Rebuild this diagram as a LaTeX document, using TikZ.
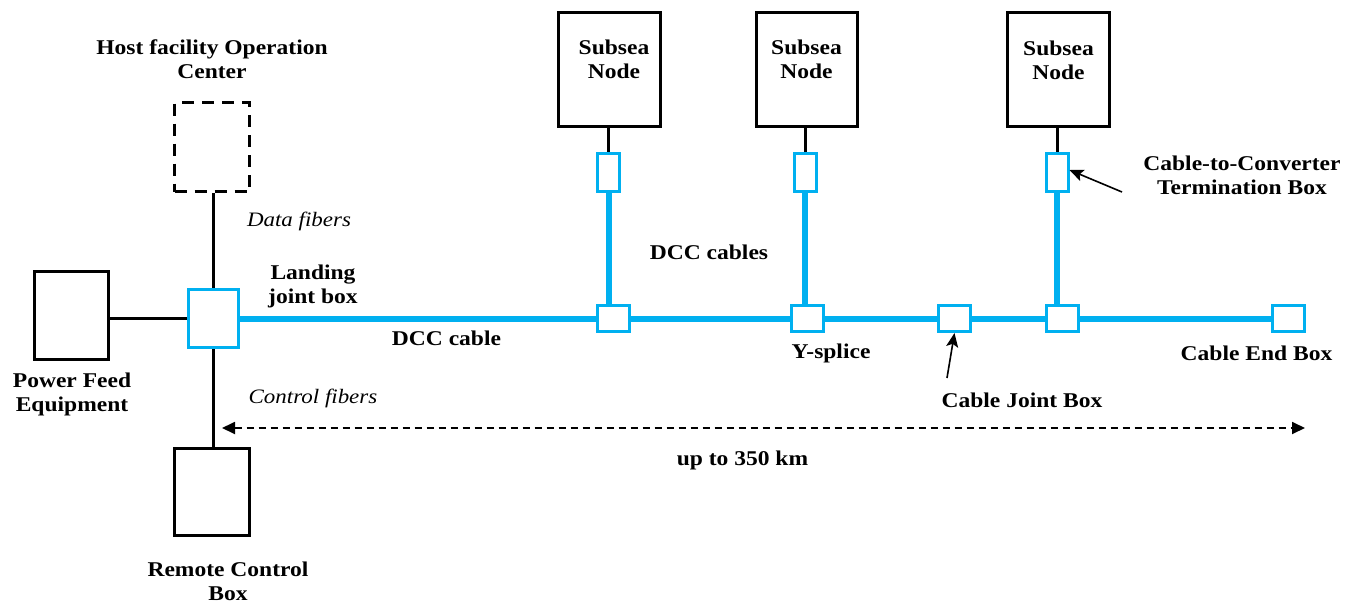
\documentclass[tikz,border=0pt]{standalone}
\usepackage{fontspec}
\setmainfont{Liberation Serif}[FakeStretch=1.12]
\usetikzlibrary{arrows.meta}
\definecolor{cableblue}{HTML}{00B0F0}
\begin{document}
\begin{tikzpicture}[x=1pt,y=-1pt,
  every node/.style={font=\fontsize{21}{24}\selectfont\bfseries, align=center, inner sep=0pt},
  blackbox/.style={draw=black, line width=3pt, rectangle, inner sep=0pt},
  dashbox/.style={blackbox, dash pattern=on 12pt off 8pt},
  bluebox/.style={draw=cableblue, line width=3pt, rectangle, fill=white, inner sep=0pt},
  wire/.style={draw=black, line width=3pt},
  cable/.style={draw=cableblue, line width=6pt},
  ptr/.style={draw=black, line width=1.6pt, -{Stealth[length=14pt,width=12pt,inset=3pt]}},
  dim/.style={draw=black, line width=1.8pt, dash pattern=on 7pt off 5pt,
     {Triangle[length=13pt,width=12pt]}-{Triangle[length=13pt,width=12pt]}},
  lbl/.style={},
  ital/.style={font=\fontsize{20.5}{24}\selectfont\itshape}
]
\useasboundingbox (0,0) rectangle (1345,605);
\fill[white] (0,0) rectangle (1345,605);

% boxes
\node[dashbox, minimum width=75pt, minimum height=89pt] (hfoc) at (212,147) {};
\node[blackbox, minimum width=74pt, minimum height=88pt] (pfe) at (71.5,315.5) {};
\node[blackbox, minimum width=75pt, minimum height=87pt] (rcb) at (212,492) {};
\node[blackbox, minimum width=102pt, minimum height=114pt] (sn1) at (609.5,69.5) {};
\node[blackbox, minimum width=101pt, minimum height=114pt] (sn2) at (807,69.5) {};
\node[blackbox, minimum width=102pt, minimum height=114pt] (sn3) at (1058.5,69.5) {};

% blue cable boxes
\node[bluebox, minimum width=50pt, minimum height=58pt] (ljb) at (213.5,318.5) {};
\node[bluebox, minimum width=22pt, minimum height=38pt] (tb1) at (608.5,172.5) {};
\node[bluebox, minimum width=22pt, minimum height=38pt] (tb2) at (805,172) {};
\node[bluebox, minimum width=22pt, minimum height=38pt] (tb3) at (1057,172.5) {};
\node[bluebox, minimum width=32pt, minimum height=26pt] (ys1) at (613.5,318.5) {};
\node[bluebox, minimum width=32pt, minimum height=26pt] (ys2) at (807.5,318.5) {};
\node[bluebox, minimum width=32pt, minimum height=26pt] (cjb) at (954.5,318.5) {};
\node[bluebox, minimum width=32pt, minimum height=26pt] (ys3) at (1062,318.5) {};
\node[bluebox, minimum width=32pt, minimum height=26pt] (ceb) at (1288,318.5) {};

% black wires
\draw[wire] (hfoc.south -| 213,0) -- (ljb.north -| 213,0);
\draw[wire] (ljb.south -| 213,0) -- (rcb.north -| 213,0);
\draw[wire] (pfe.east |- ljb.west) -- (ljb.west);

% subsea node to termination box
\draw[wire] (tb1.north |- sn1.south) -- (tb1.north);
\draw[wire] (tb2.north |- sn2.south) -- (tb2.north);
\draw[wire] (tb3.north |- sn3.south) -- (tb3.north);

% blue cables
\draw[cable] (ljb.east) -- (ys1.west);
\draw[cable] (ys1.east) -- (ys2.west);
\draw[cable] (ys2.east) -- (cjb.west);
\draw[cable] (cjb.east) -- (ys3.west);
\draw[cable] (ys3.east) -- (ceb.west);
\draw[cable] (tb1.south) -- (tb1.south |- ys1.north);
\draw[cable] (tb2.south) -- (tb2.south |- ys2.north);
\draw[cable] (tb3.south) -- (tb3.south |- ys3.north);

% labels
\node[lbl] (thfoc) at (212,59) {Host facility Operation\\Center};
\node[ital] (tdata) at (299,221) {Data fibers};
\node[lbl] (tljb) at (313,286) {Landing\\joint box};
\node[lbl] (tpfe) at (72,394) {Power Feed\\Equipment};
\node[ital] (tctrl) at (313,398) {Control fibers};
\node[lbl] (trcb) at (228,581) {Remote Control\\Box};
\node[lbl] (tsn1) at (614,59) {Subsea\\Node};
\node[lbl] (tsn2) at (806.5,59) {Subsea\\Node};
\node[lbl] (tsn3) at (1058.5,60) {Subsea\\Node};
\node[lbl] (tdccs) at (709,252) {DCC cables};
\node[lbl] (tdcc) at (446.5,338) {DCC cable};
\node[lbl] (tys) at (831,353) {Y-splice};
\node[lbl] (tcjb) at (1022,400) {Cable Joint Box};
\node[lbl] (tceb) at (1256.5,353) {Cable End Box};
\node[lbl] (ttb) at (1242,175) {Cable-to-Converter\\Termination Box};
\node[lbl] (tdist) at (742.5,460) {up to 350 km};

% pointer arrows
\coordinate (cjtail) at (947,378);
\draw[ptr] (cjtail) -- (cjb.south);
\coordinate (tbtail) at (1122,192);
\draw[ptr] (tbtail) -- (tb3.east |- 0,170);

% distance
\coordinate (dL) at (222,428);
\coordinate (dR) at (1305,428);
\draw[dim] (dL) -- (dR);
\end{tikzpicture}
\end{document}
